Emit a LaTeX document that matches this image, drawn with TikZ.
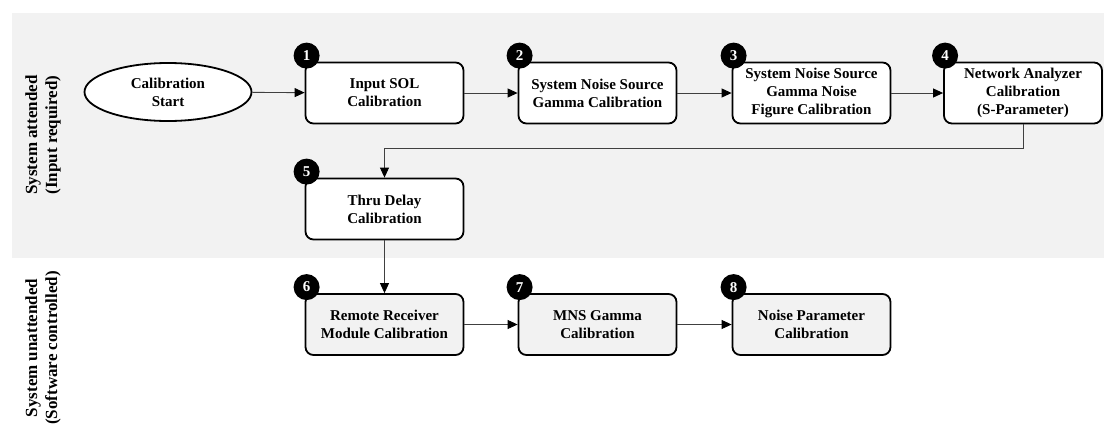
\documentclass[tikz,border=0pt]{standalone}
\usepackage{fontspec}
\setmainfont{Liberation Serif}
\usetikzlibrary{arrows.meta,shapes.geometric}
\definecolor{band}{HTML}{F2F2F2}
\definecolor{conn}{HTML}{404040}
\begin{document}
\begin{tikzpicture}[x=1pt,y=-1pt,
  stepbox/.style={draw=black,line width=1.8pt,rounded corners=8pt,minimum width=158pt,minimum height=61pt,inner sep=0pt,align=center,font=\fontsize{15}{18}\selectfont\bfseries},
  topbox/.style={stepbox,fill=white},
  botbox/.style={stepbox,fill=band},
  numdot/.style={circle,fill=black,minimum size=26pt,inner sep=0pt,text=white,font=\fontsize{15}{15}\selectfont\bfseries},
  conn/.style={draw=conn,line width=0.9pt,-{Triangle[length=10pt,width=9pt,color=black]}},
  lane/.style={rotate=90,align=center,font=\fontsize{17}{20}\selectfont\bfseries}]
\useasboundingbox (0,0) rectangle (1104,426);
\fill[white] (0,0) rectangle (1104,426);
\fill[band] (12,13) rectangle (1104,258);
\node[lane] (l1) at (43,135) {System attended\\(Input required)};
\node[lane] (l2) at (43,348) {System unattended\\(Software controlled)};
\node[draw=black,line width=1.8pt,ellipse,fill=white,minimum width=167pt,minimum height=58pt,inner sep=0pt,align=center,font=\fontsize{15}{18}\selectfont\bfseries] (st) at (168,92) {Calibration\\Start};
\node[topbox] (b1) at (384.5,93) {Input SOL\\Calibration};
\node[topbox] (b2) at (597.5,93) {System Noise Source\\Gamma Calibration};
\node[topbox] (b3) at (811.5,93) {System Noise Source\\Gamma Noise\\Figure Calibration};
\node[topbox] (b4) at (1023,93) {Network Analyzer\\Calibration\\(S-Parameter)};
\node[topbox] (b5) at (384.5,209) {Thru Delay\\Calibration};
\node[botbox] (b6) at (384.5,324.5) {Remote Receiver\\Module Calibration};
\node[botbox] (b7) at (597.5,324.5) {MNS Gamma\\Calibration};
\node[botbox] (b8) at (811.5,324.5) {Noise Parameter\\Calibration};
\draw[conn] (st) -- (b1);
\draw[conn] (b1) -- (b2);
\draw[conn] (b2) -- (b3);
\draw[conn] (b3) -- (b4);
\draw[conn] (b4.south) -- ++(0,24) -| (b5.north);
\draw[conn] (b5) -- (b6);
\draw[conn] (b6) -- (b7);
\draw[conn] (b7) -- (b8);
\node[numdot] (n1) at ([shift={(2,-6)}]b1.north west) {1};
\node[numdot] (n2) at ([shift={(2,-6)}]b2.north west) {2};
\node[numdot] (n3) at ([shift={(2,-6)}]b3.north west) {3};
\node[numdot] (n4) at ([shift={(2,-6)}]b4.north west) {4};
\node[numdot] (n5) at ([shift={(2,-6)}]b5.north west) {5};
\node[numdot] (n6) at ([shift={(2,-6)}]b6.north west) {6};
\node[numdot] (n7) at ([shift={(2,-6)}]b7.north west) {7};
\node[numdot] (n8) at ([shift={(2,-6)}]b8.north west) {8};
\end{tikzpicture}
\end{document}
